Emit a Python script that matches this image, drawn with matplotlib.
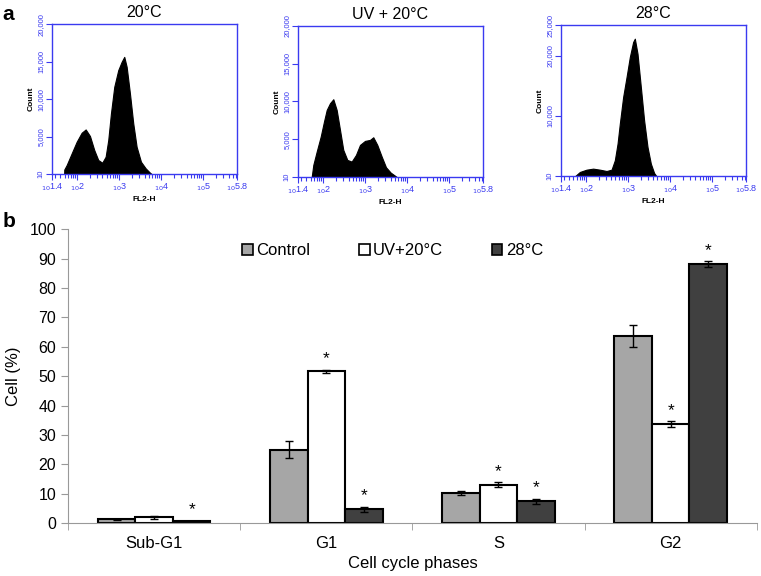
import numpy as np
import matplotlib
matplotlib.use("Agg")
import matplotlib.pyplot as plt
from matplotlib.patches import Patch

plt.rcParams['font.family'] = ['Liberation Sans', 'DejaVu Sans']

# ---- panel a: DNA content histograms (log10 FL2-H vs count) ----
hist_titles = ["20°C", "UV + 20°C", "28°C"]

h1_x = [1.690, 1.693, 1.750, 1.869, 1.987, 2.106, 2.202, 2.304, 2.406, 2.501, 2.596, 2.677,
        2.739, 2.803, 2.882, 2.977, 3.058, 3.120, 3.177, 3.255, 3.334, 3.414, 3.517, 3.629,
        3.731, 3.771]
h1_y = [0, 600, 1200, 2760, 4300, 5510, 5950, 5070, 3200, 1870, 1510, 2310,
        4530, 8090, 11640, 13870, 14980, 15640, 14310, 10760, 6760, 3640, 1640, 760,
        180, 0]

h2_x = [1.726, 1.764, 1.845, 1.940, 2.018, 2.083, 2.161, 2.240, 2.320, 2.399, 2.477, 2.573,
        2.677, 2.779, 2.875, 2.994, 3.112, 3.191, 3.286, 3.391, 3.493, 3.605, 3.747]
h2_y = [0, 1590, 3360, 5340, 7330, 8870, 9760, 10290, 8870, 6230, 3580, 2250,
        2030, 2910, 4240, 4770, 4900, 5250, 4240, 2690, 1280, 570, 0]

h3_x = [1.733, 1.852, 2.011, 2.168, 2.328, 2.487, 2.606, 2.684, 2.749, 2.803, 2.882, 2.963,
        3.041, 3.120, 3.160, 3.224, 3.303, 3.381, 3.462, 3.541, 3.619, 3.676]
h3_y = [0, 720, 1100, 1270, 1100, 880, 1100, 2650, 5410, 8720, 13130, 16440,
        19750, 22240, 22790, 20310, 14790, 9270, 4860, 2100, 550, 0]

hist_ymax = [20000, 20000, 25000]
hist_yticks = [[10, 5000, 10000, 15000, 20000],
               [10, 5000, 10000, 15000, 20000],
               [10, 10000, 20000, 25000]]
hist_xticks = [1.4, 2, 3, 4, 5, 5.8]
hist_xticklabels = ["1.4", "2", "3", "4", "5", "5.8"]

# ---- panel b: cell cycle distribution ----
phases = ["Sub-G1", "G1", "S", "G2"]
series = ["Control", "UV+20°C", "28°C"]
control = [1.3, 25.0, 10.1, 63.7]
control_err = [0.2, 3.0, 0.7, 3.7]
uv20 = [1.9, 51.7, 13.0, 33.6]
uv20_err = [0.4, 0.5, 0.8, 1.0]
t28 = [0.6, 4.6, 7.4, 88.1]
t28_err = [0.2, 0.8, 0.9, 1.0]
signif = [[False, False, False, False],
          [False, True, True, True],
          [True, True, True, True]]

blue = "#3a3af0"
fig = plt.figure(figsize=(7.61, 5.76), dpi=100)

hist_pos = [[0.0683, 0.698, 0.243, 0.260],
            [0.3916, 0.693, 0.243, 0.262],
            [0.737, 0.694, 0.243, 0.262]]
hist_data = [(h1_x, h1_y), (h2_x, h2_y), (h3_x, h3_y)]

minor_x = []
for dec in [1, 2, 3, 4, 5]:
    for m in range(2, 10):
        v = dec + np.log10(m)
        if 1.4 < v < 5.8:
            minor_x.append(v)

for i in range(3):
    ax = fig.add_axes(hist_pos[i])
    hx, hy = hist_data[i]
    ax.fill_between(hx, hy, 0, color="black", lw=0.8)
    ax.set_xlim(1.4, 5.8)
    ax.set_ylim(10, hist_ymax[i])
    ax.set_xticks(hist_xticks)
    ax.set_xticklabels([r"$_{10}$" + t for t in hist_xticklabels], color=blue, fontsize=6.5)
    ax.set_xticks(minor_x, minor=True)
    ax.set_yticks(hist_yticks[i])
    ax.set_yticklabels(["{:,}".format(v) for v in hist_yticks[i]], color=blue,
                       fontsize=5.5, rotation=90, va="center")
    ax.tick_params(axis="both", which="both", color=blue, width=0.8, direction="out", pad=1.5)
    ax.tick_params(axis="both", which="major", length=4)
    ax.tick_params(axis="x", which="minor", length=3)
    for s in ax.spines.values():
        s.set_color(blue)
        s.set_linewidth(1.0)
    ax.set_ylabel("Count", fontsize=6, fontweight="bold", labelpad=2)
    ax.set_xlabel("FL2-H", fontsize=6, fontweight="bold", labelpad=2)
    ax.set_title(hist_titles[i], fontsize=11.5, pad=5)

fig.text(0.003, 0.975, "a", fontsize=15, fontweight="bold", va="center")
fig.text(0.003, 0.615, "b", fontsize=15, fontweight="bold", va="center")

# bar chart
axb = fig.add_axes([0.0894, 0.092, 0.905, 0.510])
x = np.arange(len(phases))
w = 0.218
colors = ["#a6a6a6", "white", "#404040"]
vals = [control, uv20, t28]
errs = [control_err, uv20_err, t28_err]
for j in range(3):
    xs = x + (j - 1) * w
    axb.bar(xs, vals[j], w, color=colors[j], edgecolor="black", linewidth=1.5,
            yerr=errs[j], capsize=3, error_kw=dict(ecolor="black", elinewidth=1, capthick=1),
            zorder=2)
    for k in range(len(phases)):
        if signif[j][k]:
            axb.text(xs[k], vals[j][k] + errs[j][k] + 1.2, "*", ha="center", va="bottom",
                     fontsize=12.5)

axb.set_xlim(-0.5, len(phases) - 0.5)
axb.set_ylim(0, 100)
axb.set_yticks(np.arange(0, 101, 10))
axb.set_xticks(x)
axb.set_xticklabels(phases)
axb.set_xticks(np.arange(-0.5, len(phases)), minor=True)
axb.tick_params(axis="x", which="major", length=0, labelsize=12, pad=9)
axb.tick_params(axis="x", which="minor", length=5, color="#999999")
axb.tick_params(axis="y", length=5, color="#999999", labelsize=11.5)
for s in ["top", "right"]:
    axb.spines[s].set_visible(False)
for s in ["left", "bottom"]:
    axb.spines[s].set_color("#999999")
axb.set_ylabel("Cell (%)", fontsize=12, labelpad=6)
axb.set_xlabel("Cell cycle phases", fontsize=12, labelpad=4)

handles = [Patch(facecolor=colors[j], edgecolor="black", linewidth=1.2) for j in range(3)]
axb.legend(handles, series, loc="center", bbox_to_anchor=(0.516, 0.565),
           bbox_transform=fig.transFigure, ncol=3, frameon=False, fontsize=12,
           handlelength=0.65, handleheight=0.65, handletextpad=0.2, columnspacing=2.9)

fig.savefig("out.png", dpi=100)
